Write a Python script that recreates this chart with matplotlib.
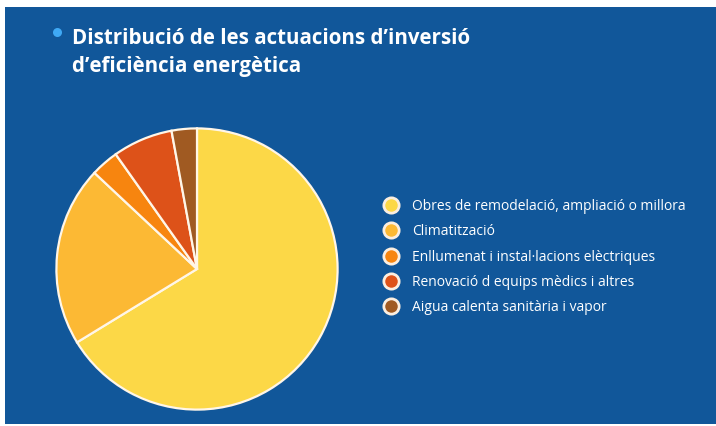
import matplotlib
matplotlib.use("Agg")
from matplotlib import pyplot as plt
from matplotlib.lines import Line2D
from matplotlib.patches import Rectangle

plt.rcParams['font.family'] = ['Open Sans', 'DejaVu Sans']

categories = [
    "Obres de remodelació, ampliació o millora",
    "Climatització",
    "Enllumenat i instal·lacions elèctriques",
    "Renovació d equips mèdics i altres",
    "Aigua calenta sanitària i vapor",
]
shares = [66.2, 20.7, 3.2, 6.9, 2.9]
colors = ["#fcd847", "#fcb934", "#f7850f", "#dd5219", "#a05a22"]

title_1 = "Distribució de les actuacions d’inversió"
title_2 = "d’eficiència energètica"

W, H = 716, 426
bg = "#11579a"

fig = plt.figure(figsize=(W / 100, H / 100), dpi=100, facecolor="white")
fig.patches.append(Rectangle((5 / W, 2 / H), 1 - 5 / W, (H - 9) / H,
                             transform=fig.transFigure, facecolor=bg,
                             edgecolor="none", zorder=-5))

# title with bullet
fig.add_artist(Line2D([57 / W], [1 - 32 / H], marker="o", markersize=6.5,
                      color="#3fa9f5", mec="none", transform=fig.transFigure))
fig.text(72 / W, 1 - 43.5 / H, title_1, color="white", fontsize=14.8,
         fontweight="bold", va="baseline", ha="left")
fig.text(72 / W, 1 - 72 / H, title_2, color="white", fontsize=14.8,
         fontweight="bold", va="baseline", ha="left")

# pie
cx, cy, r = 197, 269, 142
ax = fig.add_axes([(cx - r) / W, (H - cy - r) / H, 2 * r / W, 2 * r / H])
ax.set_zorder(2)
ax.pie(shares, colors=colors, startangle=90, counterclock=False,
       wedgeprops=dict(edgecolor="#fff6e8", linewidth=1.6))
ax.set_xlim(-1.01, 1.01)
ax.set_ylim(-1.01, 1.01)
ax.axis("off")

# legend
handles = [Line2D([], [], marker="o", linestyle="none", markersize=11,
                  markerfacecolor=c, markeredgecolor="#fbeee0",
                  markeredgewidth=2) for c in colors]
leg = fig.legend(handles, categories, loc="upper left",
                 bbox_to_anchor=(384 / W, 1 - 199 / H), frameon=False,
                 fontsize=10, labelcolor="white", labelspacing=0.74,
                 handlelength=1.0, handletextpad=1.05, borderpad=0,
                 borderaxespad=0)
leg.set_zorder(3)

fig.savefig("out.png", dpi=100, facecolor=fig.get_facecolor())
